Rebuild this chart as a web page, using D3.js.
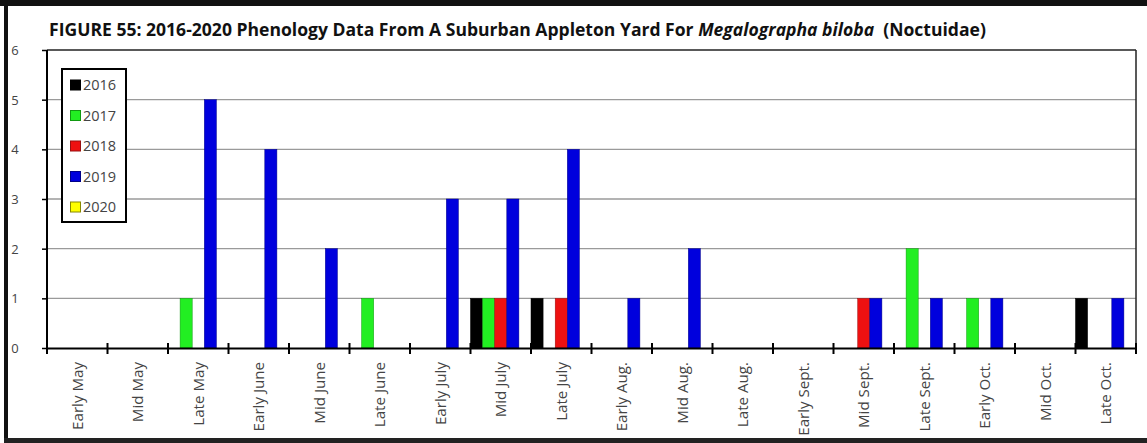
<!DOCTYPE html>
<html><head><meta charset="utf-8">
<script src="https://cdn.jsdelivr.net/npm/d3@7"></script>
<style>
html,body{margin:0;padding:0;background:#fff;}
svg{display:block;}
svg text{font-family:"Open Sans","Noto Sans",sans-serif;}
</style></head>
<body>
<svg id="chart" width="1147" height="443"></svg>
<script>
const categories = ["Early May","Mid May","Late May","Early June","Mid June","Late June","Early July","Mid July","Late July","Early Aug.","Mid Aug.","Late Aug.","Early Sept.","Mid Sept.","Late Sept.","Early Oct.","Mid Oct.","Late Oct."];
const years = ["2016","2017","2018","2019","2020"];
const v2016 = [0,0,0,0,0,0,0,1,1,0,0,0,0,0,0,0,0,1];
const v2017 = [0,0,1,0,0,1,0,1,0,0,0,0,0,0,2,1,0,0];
const v2018 = [0,0,0,0,0,0,0,1,1,0,0,0,0,1,0,0,0,0];
const v2019 = [0,0,5,4,2,0,3,3,4,1,2,0,0,1,1,1,0,1];
const v2020 = [0,0,0,0,0,0,0,0,0,0,0,0,0,0,0,0,0,0];
const yTicks = [0,1,2,3,4,5,6];
const colors = ["#000000","#22ee22","#ee1111","#0000dd","#ffff00"];
const strokes = ["#000000","#119911","#991111","#000088","#888800"];
const series = [v2016,v2017,v2018,v2019,v2020];

const FONT = '"Open Sans","Noto Sans",sans-serif';
const svg = d3.select("#chart");
const W = 1147, H = 443;
const m = {left:47, right:1136, top:50, bottom:348};

// outer frame
svg.append("rect").attr("x",0).attr("y",0).attr("width",W).attr("height",6).attr("fill","#111");
svg.append("rect").attr("x",4).attr("y",0).attr("width",4).attr("height",H).attr("fill","#111");
svg.append("rect").attr("x",4).attr("y",438).attr("width",W).attr("height",5).attr("fill","#222");

const x = d3.scaleBand().domain(categories).range([m.left, m.right]).paddingInner(0).paddingOuter(0);
const xs = d3.scaleBand().domain(years).range([0, x.bandwidth()]).padding(0);
const y = d3.scaleLinear().domain([0,6]).range([m.bottom, m.top]);

// gridlines
svg.append("g").selectAll("line").data(yTicks.filter(t=>t>0 && t<6)).join("line")
  .attr("x1",m.left).attr("x2",m.right).attr("y1",d=>y(d)).attr("y2",d=>y(d))
  .attr("stroke","#9a9a9a").attr("stroke-width",1.3);

// plot border top/right
svg.append("line").attr("x1",m.left).attr("x2",m.right).attr("y1",m.top).attr("y2",m.top).attr("stroke","#222").attr("stroke-width",1.5);
svg.append("line").attr("x1",m.right).attr("x2",m.right).attr("y1",m.top).attr("y2",m.bottom).attr("stroke","#222").attr("stroke-width",1.5);

// bars
const g = svg.append("g");
years.forEach((yr,i)=>{
  g.append("g").selectAll("rect").data(series[i].map((v,j)=>({c:categories[j],v})).filter(d=>d.v>0)).join("rect")
    .attr("x",d=>x(d.c)+xs(yr))
    .attr("width",xs.bandwidth())
    .attr("y",d=>y(d.v))
    .attr("height",d=>y(0)-y(d.v))
    .attr("fill",colors[i])
    .attr("stroke",strokes[i]).attr("stroke-width",0.5);
});

// y axis
const yAxis = d3.axisLeft(y).tickValues(yTicks).tickSize(5).tickFormat(d3.format("d"));
const ya = svg.append("g").attr("transform",`translate(${m.left},0)`).call(yAxis)
  .attr("font-family",FONT).attr("font-size",13);
ya.select(".domain").attr("stroke","#000").attr("stroke-width",2).attr("d",`M0,${m.top}V${m.bottom}`);
ya.selectAll(".tick line").attr("stroke","#000").attr("stroke-width",1.5);
ya.selectAll(".tick text").attr("fill","#444").attr("text-anchor","middle").attr("x",-32).attr("dy","0.35em");

// x axis
const xAxis = d3.axisBottom(x).tickSize(0).tickFormat(d=>d);
const xa = svg.append("g").attr("transform",`translate(0,${m.bottom})`).call(xAxis)
  .attr("font-family",FONT).attr("font-size",13);
xa.select(".domain").attr("stroke","#000").attr("stroke-width",2);
const xt = xa.selectAll(".tick text").attr("fill","#444")
  .attr("transform","rotate(-90)").attr("text-anchor","end")
  .attr("x",-14).attr("y",0).attr("dy","0.36em");
const em = xt.filter(d=>d==="Early May").node().getComputedTextLength();
xa.attr("font-size", 13*68/em);
const bounds = categories.map(c=>x(c)).concat([m.right]);
xa.append("g").selectAll("line").data(bounds).join("line")
  .attr("x1",d=>d).attr("x2",d=>d).attr("y1",-5).attr("y2",6)
  .attr("stroke","#000").attr("stroke-width",2);

// title
const title = svg.append("text").attr("x",49).attr("y",36).attr("font-size",15).attr("font-weight","bold")
  .attr("fill","#111").style("white-space","pre");
title.append("tspan").text("FIGURE 55: 2016-2020 Phenology Data From A Suburban Appleton Yard For ");
title.append("tspan").attr("font-style","italic").text("Megalographa biloba");
title.append("tspan").text("  (Noctuidae)");
const tl = title.node().getComputedTextLength();
title.attr("font-size", 15*938/tl);

// legend
const lg = svg.append("g");
lg.append("rect").attr("x",62).attr("y",69).attr("width",64).attr("height",153)
  .attr("fill","#fff").attr("stroke","#000").attr("stroke-width",2);
years.forEach((yr,i)=>{
  const cy = 85 + i*30.5;
  lg.append("rect").attr("x",70.5).attr("y",cy-5).attr("width",10).attr("height",10)
    .attr("fill",colors[i]).attr("stroke",strokes[i]).attr("stroke-width",1);
  lg.append("text").attr("x",83).attr("y",cy).attr("dy","0.36em").attr("font-size",14.5).attr("fill","#444").text(yr);
});
</script>
</body></html>
